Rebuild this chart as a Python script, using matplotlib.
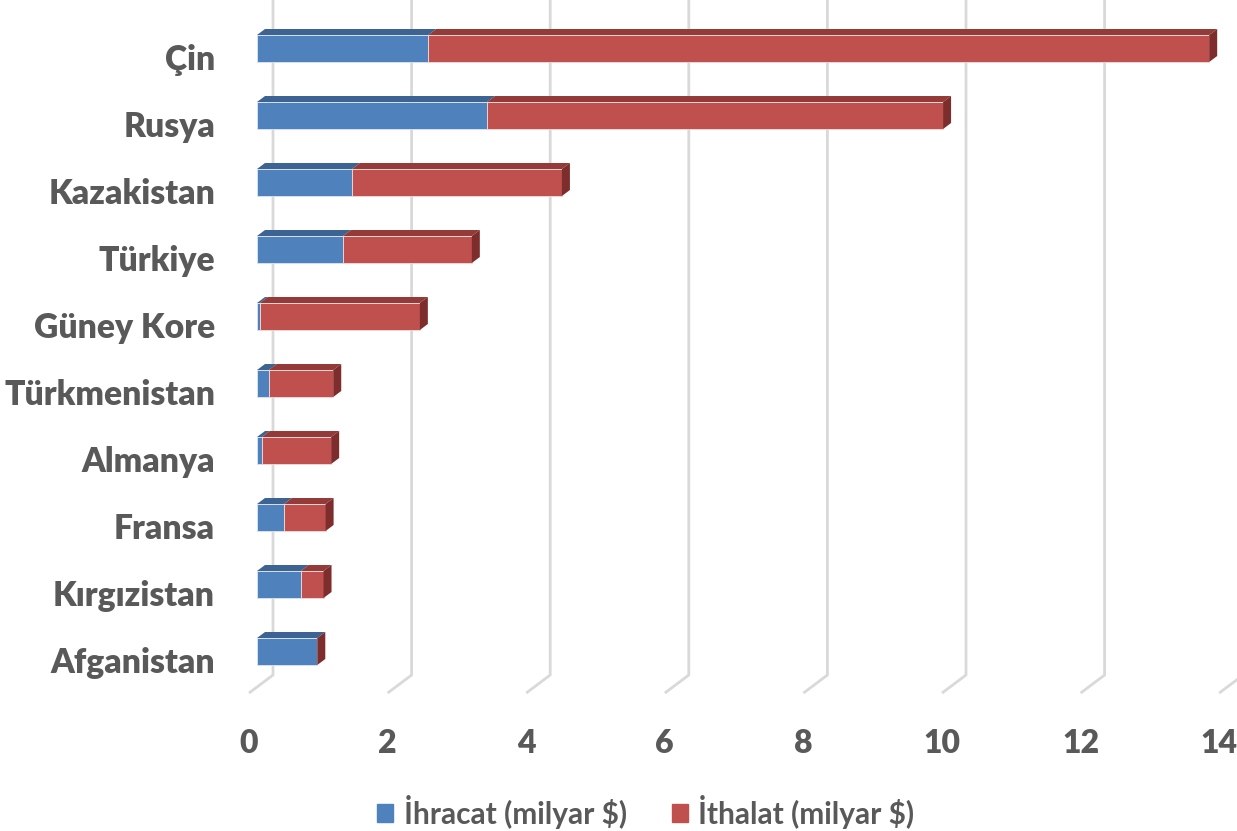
import matplotlib.pyplot as plt
from matplotlib.patches import Polygon, Patch

plt.rcParams['font.family'] = ['Lato', 'DejaVu Sans']

# veriler (milyar $)
ulkeler = ['Çin', 'Rusya', 'Kazakistan', 'Türkiye', 'Güney Kore', 'Türkmenistan',
           'Almanya', 'Fransa', 'Kırgızistan', 'Afganistan']
ihracat = [2.47, 3.32, 1.37, 1.24, 0.04, 0.17, 0.07, 0.39, 0.63, 0.87]
ithalat = [11.27, 6.58, 3.03, 1.86, 2.31, 0.93, 1.00, 0.60, 0.33, 0.0]
ticks = [0, 2, 4, 6, 8, 10, 12, 14]
seriler = ['İhracat (milyar $)', 'İthalat (milyar $)']

mavi, mavi_ust = '#4F81BD', '#3C6392'
kirmizi, kirmizi_ust, kirmizi_yan = '#C0504D', '#943B39', '#7D2E2C'
yazi_renk = '#595959'

fig = plt.figure(figsize=(12.37, 8.31), dpi=100)
ax = fig.add_axes([0, 0, 1, 1])
px_x, px_y = 69.3, 67.0          # piksel / birim
ax.set_xlim(-257 / px_x, (1237 - 257) / px_x)
ax.set_ylim((831 - 48.5) / px_y, -48.5 / px_y)
ax.axis('off')

n = len(ulkeler)
h = 27 / px_y                     # bar yüksekliği
dx, dy = 8 / px_x, 6 / px_y       # bar derinliği
gx, gy = 24 / px_x, 18 / px_y     # zemin derinliği
taban = n - 1 + 0.62              # ön düzlem tabanı

# ızgara çizgileri (3B görünüm)
for t in ticks:
    xb, xf = t + 2 * dx, t - dx
    ax.plot([xb, xb, xf], [-48.5 / px_y, taban - gy, taban], color='#D9D9D9',
            lw=2, zorder=1, solid_capstyle='butt')
    ax.text(xf, 10.515, str(t), ha='center', va='baseline', fontsize=23,
            fontweight='heavy', color=yazi_renk)

y = list(range(n))
ax.barh(y, ihracat, height=h, color=mavi, zorder=3, edgecolor='#DCE6F2', lw=0.6)
ax.barh(y, ithalat, left=ihracat, height=h, color=kirmizi, zorder=3,
        edgecolor='#F2DCDB', lw=0.6)

for i in range(n):
    ust = i - h / 2
    for sol, w, c in [(0, ihracat[i], mavi_ust), (ihracat[i], ithalat[i], kirmizi_ust)]:
        if w > 0:
            ax.add_patch(Polygon([(sol, ust), (sol + w, ust), (sol + w + dx, ust - dy),
                                  (sol + dx, ust - dy)], closed=True, fc=c, ec='none', zorder=2))
    son = ihracat[i] + ithalat[i]
    ax.add_patch(Polygon([(son, ust), (son + dx, ust - dy), (son + dx, ust + h - dy),
                          (son, ust + h)], closed=True, fc=kirmizi_yan, ec='none', zorder=4))
    ax.text(-0.606, i + 0.32, ulkeler[i], ha='right', va='baseline', fontsize=24.2,
            fontweight='heavy', color=yazi_renk)

handles = [Patch(color=mavi, label=seriler[0]), Patch(color=kirmizi, label=seriler[1])]
leg = fig.legend(handles=handles, loc='center', bbox_to_anchor=(0.522, 1 - 812 / 831),
                 ncol=2, frameon=False, fontsize=21.5, handlelength=0.55, handleheight=0.55,
                 handletextpad=0.35, columnspacing=1.5)
for t in leg.get_texts():
    t.set_color(yazi_renk)
    t.set_fontweight('bold')

fig.savefig('out.png', dpi=100)
